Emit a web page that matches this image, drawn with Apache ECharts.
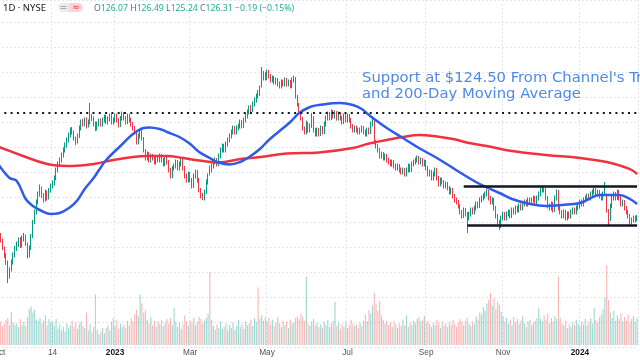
<!DOCTYPE html>
<html><head><meta charset="utf-8">
<script src="https://cdn.jsdelivr.net/npm/echarts/dist/echarts.min.js"></script>
<style>html,body{margin:0;padding:0;background:#fff}#c{width:640px;height:360px}</style>
</head><body><div id="c"></div>
<script>
const startDate = '2022-10-03';
// [open, close, low, high]
const candles = [
[120.9,122.3,120.5,122.8],[122.2,121.5,121.0,122.9],[121.4,119.9,119.5,121.8],[119.8,118.3,117.9,120.2],[118.5,117.1,116.5,118.9],[117.0,114.3,112.9,117.4],[114.2,115.5,113.8,116.0],[115.6,117.1,115.2,117.6],[117.0,118.5,116.6,119.0],[118.4,119.9,118.0,120.3],
[119.8,120.7,119.3,121.2],[120.6,121.5,120.1,122.0],[121.6,120.3,119.9,122.1],[120.4,121.9,120.0,122.4],[121.8,122.3,121.2,122.9],[122.2,120.7,120.3,122.6],[120.6,118.3,117.8,121.0],[118.4,119.9,118.0,120.4],[119.8,122.3,119.5,122.7],[122.2,125.1,121.9,125.5],
[125.0,127.1,124.7,127.6],[127.0,129.1,126.6,129.6],[129.0,130.7,128.6,131.2],[130.6,131.9,130.2,132.6],[131.8,130.3,129.9,132.2],[130.4,129.5,129.0,130.9],[129.6,131.1,129.2,131.6],[131.0,129.9,129.4,131.4],[130.0,131.5,129.6,131.9],[131.4,132.3,131.0,132.8],
[132.2,132.9,131.8,133.4],[132.8,133.9,132.4,134.4],[133.8,135.5,133.5,136.0],[135.4,136.7,135.0,137.2],[136.6,137.5,136.2,138.0],[137.4,138.5,137.0,139.0],[138.4,139.5,138.0,140.0],[139.4,140.5,139.0,141.0],[140.4,141.5,140.0,142.0],[141.4,142.5,141.0,143.0],
[142.4,143.5,142.0,144.0],[143.6,143.1,142.6,144.1],[143.0,141.9,141.4,143.4],[141.8,141.1,140.5,142.2],[141.2,142.3,140.8,142.8],[142.2,143.9,141.9,144.4],[143.8,145.1,143.4,145.6],[145.2,144.7,144.2,145.7],[144.6,145.5,144.2,146.0],[145.6,144.3,143.8,146.0],
[144.4,145.1,144.0,145.6],[145.0,146.3,144.6,148.9],[146.2,145.9,145.3,146.7],[145.8,144.7,144.2,146.2],[144.8,143.9,143.3,145.2],[143.8,144.7,143.4,145.2],[144.6,145.3,144.2,145.8],[145.4,144.7,144.2,145.8],[144.6,145.5,144.2,146.0],[145.4,146.1,145.0,146.6],
[146.2,145.1,144.7,146.5],[145.0,145.7,144.6,146.2],[145.6,146.3,145.2,146.8],[146.4,145.1,144.6,146.7],[145.0,145.5,144.6,146.0],[145.4,146.3,145.0,146.8],[146.4,145.5,145.0,146.8],[145.6,144.5,144.0,145.9],[144.4,145.9,144.1,146.3],[145.8,146.7,145.4,147.2],
[146.8,145.9,145.4,147.1],[146.0,145.1,144.6,146.3],[145.0,146.3,144.7,146.8],[146.4,145.5,145.0,146.7],[145.6,144.7,144.2,146.0],[144.8,143.9,143.4,145.1],[144.0,143.1,142.6,144.3],[143.2,141.1,140.6,143.5],[141.0,142.3,140.6,142.8],[142.2,143.1,141.8,143.6],
[143.2,141.9,141.4,143.5],[141.8,139.5,139.0,142.1],[139.4,137.9,137.4,139.7],[137.8,138.7,137.4,139.2],[138.8,137.5,137.0,139.1],[137.4,138.3,137.0,138.8],[138.2,137.9,137.4,138.7],[138.0,137.1,136.6,138.3],[137.0,137.9,136.6,138.4],[137.8,137.5,137.0,138.3],
[137.4,138.3,137.0,138.8],[138.4,137.5,137.0,138.7],[137.6,136.7,136.2,137.9],[136.6,137.9,136.3,138.4],[138.0,137.1,136.6,138.3],[137.2,135.5,135.0,137.5],[135.6,134.3,133.8,135.9],[134.2,135.9,133.9,136.3],[135.8,136.3,135.4,136.8],[136.2,137.1,135.8,137.6],
[137.2,135.9,135.4,137.5],[135.8,136.7,135.4,137.2],[136.6,137.5,136.2,138.0],[137.6,135.9,135.4,137.9],[136.0,134.3,133.8,136.3],[134.4,133.5,133.0,134.8],[133.4,134.7,133.0,135.2],[134.8,133.5,133.0,135.1],[133.6,132.3,131.8,133.9],[132.2,134.3,131.9,134.8],
[134.2,135.1,133.8,135.6],[135.2,133.5,133.0,135.5],[133.6,131.5,131.0,133.9],[131.6,130.3,129.8,131.9],[130.4,129.9,129.5,130.9],[129.8,131.1,129.4,131.6],[131.0,133.1,130.7,133.6],[133.0,134.3,132.6,134.8],[135.9,135.5,134.4,136.4],[135.4,136.3,135.0,136.8],
[136.2,137.1,135.8,137.6],[137.0,137.5,136.6,138.0],[137.6,136.7,136.2,137.9],[136.6,138.3,136.3,138.8],[138.2,139.5,137.8,140.0],[139.4,140.3,139.0,140.8],[140.4,139.5,139.0,140.7],[139.4,140.7,139.0,141.2],[140.6,141.5,140.2,142.0],[141.4,142.3,141.0,142.8],
[142.2,143.1,141.8,143.6],[143.0,143.9,142.6,144.4],[144.0,143.1,142.6,144.3],[143.0,143.9,142.6,144.4],[143.8,144.3,143.4,144.8],[144.2,145.1,143.8,145.6],[145.2,144.3,143.8,145.5],[144.2,145.5,143.9,146.0],[145.4,146.3,145.0,146.8],[146.2,147.1,145.8,147.6],
[147.0,147.9,146.6,148.4],[148.0,147.5,147.0,148.5],[147.4,148.7,147.1,149.2],[148.6,149.5,148.2,150.0],[149.4,150.3,149.0,150.8],[151.0,150.7,149.8,151.5],[150.6,151.9,150.3,152.4],[152.3,153.9,152.0,156.1],[153.8,154.7,153.4,155.3],[154.8,153.9,153.4,155.1],
[153.8,155.1,153.5,155.6],[155.2,154.3,153.8,155.5],[154.4,153.5,153.0,154.7],[153.4,153.9,153.0,154.4],[154.0,153.1,152.6,154.3],[153.0,153.5,152.6,154.0],[153.6,152.7,152.2,153.9],[152.8,152.3,151.8,153.2],[152.2,153.1,151.8,153.6],[153.2,152.7,152.2,153.6],
[152.6,153.5,152.2,154.0],[153.6,152.7,152.2,153.9],[152.6,153.1,152.2,153.6],[153.2,152.3,151.8,153.5],[152.2,153.5,151.9,154.0],[153.4,153.9,153.0,154.4],[153.8,150.3,149.8,154.1],[150.2,148.7,148.2,150.5],[148.6,147.1,146.6,148.9],[147.0,145.9,145.4,147.3],
[145.8,143.9,143.4,146.1],[143.8,143.1,142.6,144.2],[143.0,144.7,142.6,145.4],[144.8,143.5,143.0,145.1],[143.4,144.3,143.0,144.8],[144.2,145.9,143.9,146.9],[146.0,143.5,143.0,146.3],[143.6,142.7,142.2,143.9],[142.6,143.5,142.2,144.0],[143.6,142.7,142.2,143.9],
[142.6,143.9,142.3,144.4],[144.0,143.1,142.6,144.3],[143.0,144.7,142.7,145.2],[144.6,145.9,144.2,146.4],[145.8,146.7,145.4,147.2],[146.8,145.9,145.4,147.1],[145.8,147.1,145.5,147.6],[147.2,146.3,145.8,147.5],[146.2,146.9,145.8,147.4],[147.0,145.9,145.4,147.3],
[145.8,146.7,145.4,147.2],[146.8,145.9,145.4,147.1],[146.0,145.1,144.6,146.3],[145.0,146.3,144.7,146.8],[146.4,145.5,145.0,146.7],[145.4,146.3,145.0,146.8],[146.4,145.5,145.0,146.7],[145.6,144.3,143.8,145.9],[144.4,143.5,143.0,144.7],[143.4,143.9,143.0,144.4],
[144.0,143.5,143.0,144.4],[143.6,143.1,142.6,144.0],[143.0,143.5,142.6,144.0],[143.4,143.9,143.0,144.4],[144.0,143.1,142.6,144.3],[143.2,142.7,142.2,143.6],[142.6,143.5,142.2,144.0],[143.6,143.1,142.6,144.0],[143.0,144.7,142.7,145.2],[144.6,145.5,144.2,146.3],
[145.3,141.1,140.6,145.6],[141.0,140.3,139.8,141.5],[140.4,139.5,139.0,140.7],[139.6,138.3,137.8,139.9],[138.2,138.7,137.8,139.2],[138.8,137.9,137.4,139.1],[137.8,138.3,137.4,138.8],[138.4,137.5,137.0,138.7],[137.6,137.1,136.6,138.0],[137.2,136.7,136.2,137.6],
[136.6,137.1,136.2,137.6],[137.2,136.3,135.8,137.5],[136.4,135.9,135.4,136.8],[135.8,136.3,135.4,136.8],[136.4,135.5,135.0,136.7],[135.6,135.1,134.6,136.0],[135.0,135.5,134.6,136.0],[135.6,134.7,134.2,135.9],[134.6,135.5,134.2,136.0],[135.4,136.3,135.0,136.8],
[136.4,135.5,135.0,136.7],[135.4,136.7,135.1,137.2],[136.6,137.1,136.2,137.6],[137.0,137.5,136.6,138.0],[137.4,137.9,137.0,138.4],[138.0,137.1,136.6,138.3],[137.0,137.5,136.6,138.0],[137.6,136.7,136.2,137.9],[136.6,137.1,136.2,137.6],[137.2,135.9,135.4,137.5],
[136.0,134.7,134.2,136.3],[134.6,135.1,134.2,135.6],[135.2,133.9,133.4,135.5],[133.8,134.7,133.4,135.2],[134.6,135.5,134.2,136.0],[135.6,133.9,133.4,135.9],[134.0,132.7,132.2,134.3],[132.6,133.5,132.2,134.0],[133.6,133.1,132.6,134.0],[133.2,132.3,131.8,133.5],
[132.2,132.7,131.8,133.2],[132.8,131.9,131.4,133.1],[132.0,131.1,130.6,132.3],[131.0,131.5,130.6,132.0],[131.6,130.3,129.8,131.9],[130.4,129.5,129.0,130.7],[129.6,129.1,128.6,130.0],[129.2,128.3,127.8,129.5],[128.4,127.1,126.6,128.7],[127.2,126.3,125.8,127.5],
[126.2,127.5,125.9,128.0],[127.6,126.7,126.2,127.9],[126.8,125.9,122.9,127.1],[125.8,126.7,125.4,127.2],[126.6,127.5,126.2,128.0],[127.6,127.1,126.6,128.0],[127.0,127.9,126.6,128.4],[127.8,128.7,127.4,129.2],[128.8,128.3,127.8,129.2],[128.2,129.5,127.9,130.0],
[129.4,129.9,129.0,130.4],[129.8,130.3,129.4,130.8],[130.2,130.7,129.8,131.2],[130.6,131.1,130.2,131.8],[131.2,129.9,129.4,131.5],[130.0,129.1,128.6,130.3],[129.0,129.5,128.6,130.0],[129.6,127.9,127.4,129.9],[128.0,126.3,125.8,128.3],[126.4,125.1,124.6,126.7],
[125.2,124.3,123.5,125.5],[124.2,125.9,123.9,126.4],[125.8,126.7,125.4,127.2],[126.8,125.9,125.4,127.1],[125.8,126.7,125.4,127.2],[126.6,127.1,126.2,127.6],[127.2,126.3,125.8,127.5],[126.2,127.5,125.9,128.0],[127.6,127.1,126.6,128.0],[127.0,127.9,126.6,128.4],
[128.0,127.5,127.0,128.4],[127.4,128.3,127.0,128.8],[128.4,127.9,127.4,128.8],[127.8,128.7,127.4,129.2],[128.6,129.1,128.2,129.6],[129.2,128.7,128.2,129.6],[128.6,129.5,128.2,130.0],[129.6,129.1,128.6,130.0],[129.0,129.5,128.6,130.0],[129.4,129.9,129.0,130.4],
[130.0,129.1,128.6,130.3],[129.0,129.9,128.6,130.4],[129.8,130.7,129.4,131.2],[130.6,131.5,130.2,132.0],[131.4,131.9,131.0,132.4],[132.0,131.5,131.0,132.3],[131.6,129.9,129.4,131.9],[130.0,128.3,127.8,130.3],[128.4,127.9,127.4,128.8],[127.8,128.7,127.4,129.2],
[128.8,127.5,127.0,129.1],[127.4,129.9,127.1,130.4],[129.8,131.1,129.4,131.6],[131.2,127.9,127.4,131.5],[128.0,127.1,126.6,128.3],[127.2,126.3,125.8,127.5],[126.2,127.1,125.8,127.6],[127.2,125.9,125.4,127.5],[125.8,126.7,125.4,127.2],[126.8,126.3,125.8,127.2],
[126.2,127.1,125.8,127.6],[127.0,127.5,126.6,128.0],[127.6,127.1,126.6,128.0],[127.0,127.9,126.6,128.4],[127.8,128.3,127.4,128.8],[128.2,129.1,127.8,129.6],[129.2,128.7,128.2,129.6],[128.6,129.5,128.2,130.0],[129.4,129.9,129.0,130.4],[129.8,130.3,129.4,130.8],
[130.4,129.9,129.4,130.8],[129.8,130.7,129.4,131.2],[130.6,131.1,130.2,131.6],[131.0,131.5,130.6,132.0],[131.6,130.7,130.2,131.9],[130.6,131.1,130.2,131.6],[131.2,130.3,129.8,131.5],[130.4,129.9,129.4,130.8],[129.8,130.7,129.4,131.2],[130.6,132.3,130.3,133.1],
[130.5,127.5,127.0,130.8],[127.4,125.5,124.5,127.7],[125.6,128.3,125.3,128.8],[128.2,129.9,127.9,130.4],[129.8,130.7,129.4,131.2],[130.8,129.9,129.4,131.1],[129.8,131.1,129.5,131.6],[131.2,129.9,129.4,131.5],[130.0,128.7,128.2,130.3],[128.6,129.1,128.2,129.6],
[129.2,127.9,127.4,129.5],[128.0,127.1,126.6,128.3],[127.2,126.3,125.8,127.5],[126.4,125.1,124.6,126.7],[125.0,125.5,124.6,126.0],[125.4,125.9,125.0,126.4],[126.0,125.5,125.0,126.4],[126.07,126.31,125.24,126.49]
];
// volume, millions
const volumes = [
2.3,2.6,2.1,2.4,2.8,3.0,2.2,3.7,2.5,2.2,
2.4,2.0,2.9,2.2,2.6,2.1,3.1,4.0,4.3,3.6,
3.9,2.8,2.6,3.0,2.4,2.7,3.3,2.2,2.9,2.5,
2.6,2.1,2.9,1.8,2.3,1.6,2.0,1.5,2.4,1.9,
2.2,2.7,2.0,2.5,1.8,2.3,2.6,2.1,1.9,3.6,
1.6,2.3,1.4,2.0,5.6,1.7,1.2,1.5,1.9,1.3,
1.9,2.2,1.6,2.6,3.0,2.1,2.8,1.8,2.4,2.0,
2.3,1.9,2.7,2.2,3.0,2.6,3.4,3.9,3.2,5.6,
4.6,3.6,3.9,2.8,2.4,3.1,2.2,2.7,2.0,2.6,
2.3,2.8,2.1,2.5,2.9,2.4,3.0,2.2,4.1,2.6,
2.0,2.5,1.8,2.3,3.3,2.6,2.1,2.7,2.4,3.0,
2.2,2.6,3.1,2.9,2.4,2.7,3.0,3.5,8.1,2.8,
2.1,1.7,2.3,1.9,2.6,1.8,2.0,2.4,1.6,2.2,
1.9,2.5,1.7,2.1,2.8,2.0,2.3,1.8,2.6,2.2,
2.4,2.8,2.1,3.0,2.6,6.4,2.9,3.3,2.7,3.1,
2.6,3.0,2.3,2.8,2.1,2.5,3.1,2.4,2.0,2.7,
2.2,2.6,1.9,2.8,2.4,2.5,3.0,3.2,2.9,3.5,
3.1,2.7,7.6,2.4,2.1,2.6,2.9,2.2,2.5,2.0,
2.3,1.9,2.6,2.2,2.8,2.0,2.4,2.7,4.8,2.1,
2.5,1.8,2.3,2.0,2.6,1.9,2.2,2.8,2.4,2.1,
2.3,1.9,2.5,2.1,2.7,3.4,2.6,3.9,3.5,4.4,
5.8,4.6,3.8,4.9,3.3,2.8,2.4,2.7,2.2,2.5,
2.0,2.6,2.3,1.9,2.4,2.1,2.8,2.2,3.3,2.0,
2.5,2.2,2.7,2.4,2.9,3.1,2.6,2.8,3.2,2.5,
2.7,2.3,2.0,2.5,2.2,2.8,2.4,1.9,2.6,2.1,
2.4,2.0,2.6,2.2,2.8,2.3,2.0,2.5,2.9,2.6,
2.2,2.7,3.0,2.4,2.1,2.6,2.3,3.2,2.8,3.6,
3.4,4.2,3.8,4.6,5.0,5.8,4.4,5.2,4.0,4.8,
4.5,3.7,3.2,2.6,3.0,2.4,2.8,2.2,3.1,2.5,
2.9,2.3,2.7,3.2,2.4,2.0,2.6,2.8,2.2,2.5,
2.7,3.0,4.1,2.9,2.6,3.3,2.8,3.5,2.4,3.0,
2.6,3.2,2.9,7.6,3.0,2.4,2.2,2.7,1.9,2.3,
2.0,2.5,2.2,2.8,2.4,2.1,2.6,2.3,2.9,2.2,
2.6,3.0,2.4,4.1,2.8,2.5,3.1,3.4,4.0,5.3,
8.9,5.0,3.6,3.0,3.8,2.7,3.3,2.9,3.5,2.6,
3.1,2.7,3.4,2.5,2.9,3.2,2.6,3.0
];
// [candle index, value]
const ma50Points = [[0,136.5],[6,133.9],[10,133.3],[15,129.7],[19,128.3],[24,127.3],[29,126.7],[34,126.9],[40,128.1],[44,129.5],[48,131.7],[53,133.9],[56,135.5],[60,137.5],[68,140.3],[75,142.7],[81,143.9],[84,144.0],[90,143.7],[94,143.1],[101,142.1],[107,140.7],[112,139.1],[118,137.9],[122,137.1],[129,136.6],[135,137.1],[140,138.1],[146,139.7],[151,141.5],[157,143.3],[163,145.1],[168,146.9],[174,148.1],[179,148.5],[191,148.9],[198,148.5],[203,147.7],[207,146.5],[217,143.9],[226,141.9],[235,139.9],[245,137.9],[254,135.9],[263,133.9],[269,132.7],[280,130.9],[287,129.7],[297,128.7],[306,128.3],[315,128.5],[325,128.9],[330,129.7],[336,130.5],[347,130.5],[353,129.7],[357,128.7]];
const ma200Points = [[0,140.1],[12,138.5],[23,137.1],[30,136.5],[41,136.3],[53,136.7],[64,137.5],[75,138.1],[83,138.3],[94,138.3],[103,137.9],[112,137.4],[123,137.0],[135,137.7],[146,138.1],[161,138.8],[179,139.0],[198,139.9],[207,140.8],[217,141.5],[226,142.1],[235,142.5],[245,142.2],[254,141.7],[263,140.9],[273,140.3],[287,139.3],[306,138.5],[325,137.9],[340,137.1],[349,136.2],[354,135.5],[357,134.7]];
const tickDates = ['2022-10-03','2022-11-14','2023-01-02','2023-03-01','2023-05-01','2023-07-03','2023-09-01','2023-11-01','2024-01-01'];
const tickLabels = ['Oct','14','2023','Mar','May','Jul','Sep','Nov','2024'];
const resistanceLevel = 146.9;
const channelTop = 132.3, channelBottom = 124.5;
const channelTopStart = 260, channelBottomStart = 262;
const lastBar = {O:'126.07', H:'126.49', L:'125.24', C:'126.31', chg:'−0.19 (−0.15%)'};

// weekday calendar for the candles
const dates = [];
{
  const p = startDate.split('-').map(Number);
  let d = new Date(Date.UTC(p[0], p[1]-1, p[2]));
  while (dates.length < candles.length) {
    const wd = d.getUTCDay();
    if (wd !== 0 && wd !== 6) dates.push(d.toISOString().slice(0,10));
    d = new Date(d.getTime() + 86400000);
  }
}
const tickMap = {};
tickDates.forEach((t,i)=>tickMap[t]=tickLabels[i]);
const isTick = (idx, val) => tickMap[val] !== undefined;

const upC = '#089981', dnC = '#f23645';
const volData = volumes.map((v,i)=>({value:v, itemStyle:{color: candles[i][1] >= candles[i][0] ? 'rgba(38,166,154,0.45)' : 'rgba(239,83,80,0.42)'}}));
const gridLine = {show:true, lineStyle:{color:'#e3e6ec', type:[2,2], width:1}};

const chart = echarts.init(document.getElementById('c'), null, {renderer:'canvas'});
chart.setOption({
  animation:false,
  backgroundColor:'#ffffff',
  grid:[
    {left:-2, width:640, top:0, height:347.5, outerBoundsMode:'none', containLabel:false},
    {left:-2, width:640, top:255, height:90, outerBoundsMode:'none', containLabel:false}
  ],
  xAxis:[
    {type:'category', gridIndex:0, data:dates, boundaryGap:true,
     axisLine:{show:false}, axisTick:{show:false}, axisLabel:{show:false},
     splitLine:{show:true, interval:isTick, lineStyle:{color:'#e3e6ec', type:[2,2], width:1}}},
    {type:'category', gridIndex:1, data:dates, boundaryGap:true,
     axisLine:{show:false}, axisTick:{show:false}, splitLine:{show:false},
     axisLabel:{show:true, interval:isTick, margin:4, fontSize:8.3, fontFamily:'Liberation Sans', color:'#50535e',
       formatter:(v)=>{const t=tickMap[v]; if(t===undefined) return ''; return /^\d{4}$/.test(t) ? '{y|'+t+'}' : t;},
       rich:{y:{fontSize:8.3, fontFamily:'Liberation Sans', fontWeight:'bold', color:'#131722'}}}}
  ],
  yAxis:[
    {type:'value', gridIndex:0, min:100, max:169.5, interval:5, show:true,
     axisLine:{show:false}, axisTick:{show:false}, axisLabel:{show:false},
     splitLine:gridLine},
    {type:'value', gridIndex:1, min:0, max:10, show:false, splitLine:{show:false}}
  ],
  graphic:[
    {type:'text', x:3, y:8.5, z:10, style:{text:'1D · NYSE', font:'9.5px "Noto Sans"', fill:'#131722', verticalAlign:'middle'}},
    {type:'rect', z:10, shape:{x:58, y:3, width:11, height:9, r:[4.5,0,0,4.5]}, style:{fill:'#e9ebf0'}},
    {type:'rect', z:10, shape:{x:69, y:3, width:14, height:9, r:[0,4.5,4.5,0]}, style:{fill:'#fbd4d8'}},
    {type:'text', x:63.5, y:7.5, z:11, style:{text:'=', font:'9px "DejaVu Sans"', fill:'#6a6d78', align:'center', verticalAlign:'middle'}},
    {type:'text', x:76, y:7.5, z:11, style:{text:'≈', font:'9px "DejaVu Sans"', fill:'#f23645', align:'center', verticalAlign:'middle'}},
    {type:'text', x:94, y:8.5, z:10, style:{
      text:'{l|O}{v|'+lastBar.O+'} {l|H}{v|'+lastBar.H+'} {l|L}{v|'+lastBar.L+'} {l|C}{v|'+lastBar.C+'} {v|'+lastBar.chg+'}',
      font:'8.7px "Noto Sans"', verticalAlign:'middle',
      rich:{l:{fill:'#5f7372', font:'8.7px "Noto Sans"'}, v:{fill:'#22ab94', font:'8.7px "Noto Sans"'}}}},
    {type:'text', x:362, y:77.8, z:10, style:{text:"Support at $124.50 From Channel's Trendline", font:'14.8px "DejaVu Sans"', fill:'#4f8ae8', verticalAlign:'middle'}},
    {type:'text', x:362, y:93.8, z:10, style:{text:'and 200-Day Moving Average', font:'14.8px "DejaVu Sans"', fill:'#4f8ae8', verticalAlign:'middle'}}
  ],
  series:[
    {type:'bar', xAxisIndex:1, yAxisIndex:1, data:volData, barWidth:'62%', z:1, silent:true},
    {type:'candlestick', xAxisIndex:0, yAxisIndex:0, data:candles, barWidth:1.3, z:3, silent:true,
     itemStyle:{color:upC, color0:dnC, borderColor:upC, borderColor0:dnC, borderWidth:1},
     markLine:{silent:true, symbol:['none','none'], label:{show:false}, animation:false, z:6,
       data:[
         {yAxis:resistanceLevel, lineStyle:{color:'#131722', width:2, type:[2,4.3]}},
         [{coord:[dates[channelTopStart], channelTop], lineStyle:{color:'#131722', width:2.5, type:'solid'}},{coord:[dates[dates.length-1], channelTop]}],
         [{coord:[dates[channelBottomStart], channelBottom], lineStyle:{color:'#131722', width:2.5, type:'solid'}},{coord:[dates[dates.length-1], channelBottom]}]
       ]}},
    {type:'line', xAxisIndex:0, yAxisIndex:0, data:ma200Points, smooth:0.4, showSymbol:false, z:4, silent:true,
     lineStyle:{color:'#f0323e', width:2.5}},
    {type:'line', xAxisIndex:0, yAxisIndex:0, data:ma50Points, smooth:0.4, showSymbol:false, z:5, silent:true,
     lineStyle:{color:'#2f5be6', width:2.5}}
  ]
});
</script></body></html>
